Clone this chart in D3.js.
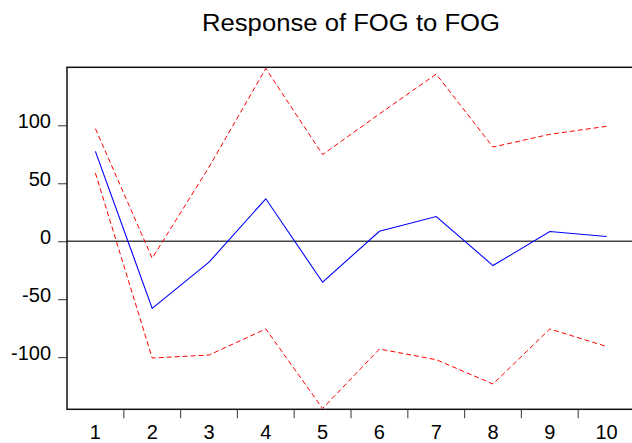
<!DOCTYPE html>
<html>
<head>
<meta charset="utf-8">
<script src="https://cdn.jsdelivr.net/npm/d3@7"></script>
<style>
  html, body { margin: 0; padding: 0; background: #fff; }
  svg { display: block; }
  text { font-family: "Liberation Sans", Arial, sans-serif; fill: #000; }
</style>
</head>
<body>
<svg id="chart" width="632" height="443"></svg>
<script>
// Impulse response periods
const periods = [1, 2, 3, 4, 5, 6, 7, 8, 9, 10];
// Response of FOG to a FOG shock
const response = [77.5, -57.9, -18.1, 36.6, -35.4, 8.6, 21.3, -21.0, 8.4, 4.1];
// +/- 2 S.E. bands
const upperBand = [97.1, -14.7, 63.9, 149.0, 74.7, 109.8, 144.1, 81.2, 92.2, 99.1];
const lowerBand = [58.8, -100.8, -98.2, -75.7, -144.3, -93.0, -102.2, -123.2, -75.7, -90.8];
// Y axis ticks
const yTicks = [-100, -50, 0, 50, 100];
const yDomain = [-145, 150];

const svg = d3.select("#chart");
const plotLeft = 67, plotRight = 635, plotTop = 67.3, plotBottom = 409.3;

const x = d3.scaleBand().domain(periods).range([plotLeft, plotRight]).paddingInner(0).paddingOuter(0);
const y = d3.scaleLinear().domain(yDomain).range([plotBottom, plotTop]);
const cx = d => x(d) + x.bandwidth() / 2;

// Title
svg.append("text")
  .attr("x", (plotLeft + plotRight) / 2)
  .attr("y", 31)
  .attr("text-anchor", "middle")
  .attr("textLength", 298)
  .attr("lengthAdjust", "spacingAndGlyphs")
  .style("font-size", "23px")
  .text("Response of FOG to FOG");

// Zero line
svg.append("line")
  .attr("x1", plotLeft).attr("x2", plotRight)
  .attr("y1", y(0)).attr("y2", y(0))
  .attr("stroke", "#444").attr("stroke-width", 1.5);

// Y axis ticks and labels (plain hyphen for negatives)
const fmt = d => String(d);
const yAxis = d3.axisLeft(y).tickValues(yTicks).tickSize(9).tickPadding(7).tickFormat(fmt);
const gy = svg.append("g").attr("transform", `translate(${plotLeft},0)`).call(yAxis);
gy.select(".domain").remove();
gy.selectAll(".tick line").attr("stroke", "#555").attr("stroke-width", 1.2);
gy.selectAll(".tick text")
  .style("font-size", "20px")
  .style("font-family", "'Liberation Sans', Arial, sans-serif")
  .attr("fill", "#000")
  .attr("dy", "0.32em")
  .attr("y", -4);

// X axis: ticks between periods, labels centered
const gx = svg.append("g").attr("transform", `translate(0,${plotBottom})`);
gx.selectAll("line.sep")
  .data(periods.slice(1))
  .join("line")
  .attr("class", "sep")
  .attr("x1", d => x(d)).attr("x2", d => x(d))
  .attr("y1", 0).attr("y2", 9)
  .attr("stroke", "#555").attr("stroke-width", 1.2);
gx.selectAll("text")
  .data(periods)
  .join("text")
  .attr("x", d => cx(d))
  .attr("y", 30)
  .attr("text-anchor", "middle")
  .style("font-size", "20px")
  .text(d => d);

// Frame
svg.append("rect")
  .attr("x", plotLeft).attr("y", plotTop)
  .attr("width", plotRight - plotLeft).attr("height", plotBottom - plotTop)
  .attr("fill", "none").attr("stroke", "#111").attr("stroke-width", 1.5);

const line = d3.line().x((d, i) => cx(periods[i])).y(d => y(d));

// Confidence bands
[upperBand, lowerBand].forEach(band => {
  svg.append("path")
    .datum(band)
    .attr("d", line)
    .attr("fill", "none")
    .attr("stroke", "#ff0000")
    .attr("stroke-width", 1)
    .attr("stroke-dasharray", "5,3");
});

// Response
svg.append("path")
  .datum(response)
  .attr("d", line)
  .attr("fill", "none")
  .attr("stroke", "#0000ff")
  .attr("stroke-width", 1.1);
</script>
</body>
</html>
